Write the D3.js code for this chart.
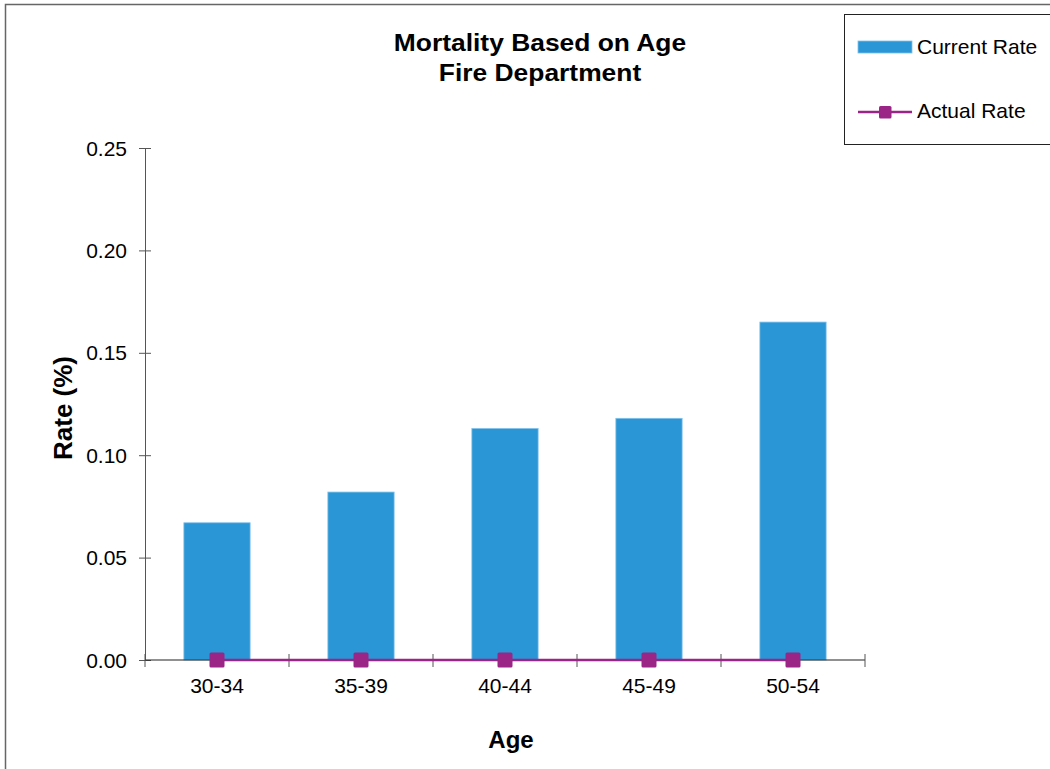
<!DOCTYPE html>
<html>
<head>
<meta charset="utf-8">
<script src="https://cdn.jsdelivr.net/npm/d3@7"></script>
<style>
  html, body { margin: 0; padding: 0; background: #fff; }
  svg { display: block; font-family: "Liberation Sans", Arial, sans-serif; }
</style>
</head>
<body>
<svg id="chart" width="1050" height="769"></svg>
<script>
// Age groups and mortality rates (%)
const categories = ["30-34", "35-39", "40-44", "45-49", "50-54"];
const currentRate = [0.067, 0.082, 0.113, 0.118, 0.165];
const actualRate = [0, 0, 0, 0, 0];
const yTicks = [0, 0.05, 0.10, 0.15, 0.20, 0.25];

const barColor = "#2A96D5";
const lineColor = "#9B2487";
const fontFamily = "Liberation Sans, Arial, sans-serif";

const svg = d3.select("#chart");

// outer frame
svg.append("rect")
  .attr("x", 5.5).attr("y", 4.5)
  .attr("width", 1100).attr("height", 900)
  .attr("fill", "none").attr("stroke", "#666").attr("stroke-width", 1.5);

const plot = { left: 145, right: 865, top: 148, bottom: 660 };

const x = d3.scaleBand()
  .domain(categories)
  .range([plot.left, plot.right])
  .paddingInner(0.54)
  .paddingOuter(0.27);

const xc = d3.scalePoint()
  .domain(categories)
  .range([plot.left, plot.right])
  .padding(0.5);

const y = d3.scaleLinear().domain([0, 0.25]).range([plot.bottom, plot.top]);

// title (wide bold lettering)
const title = svg.append("g")
  .attr("transform", "translate(540,0) scale(1.1,1)")
  .attr("font-weight", "bold").attr("font-size", 24)
  .attr("text-anchor", "middle").attr("fill", "#000");
title.append("text").attr("x", 0).attr("y", 51.5).text("Mortality Based on Age");
title.append("text").attr("x", 0).attr("y", 81).text("Fire Department");

// bars
svg.append("g").selectAll("rect")
  .data(categories)
  .join("rect")
  .attr("x", (d) => x(d))
  .attr("width", x.bandwidth())
  .attr("y", (d, i) => y(currentRate[i]))
  .attr("height", (d, i) => y(0) - y(currentRate[i]))
  .attr("fill", barColor)
  .attr("stroke", "#7fc0ea")
  .attr("stroke-width", 0.8);

// y axis
const yAxis = svg.append("g")
  .attr("transform", `translate(${plot.left},0)`)
  .call(d3.axisLeft(y).tickValues(yTicks).tickFormat(d3.format(".2f")).tickSize(6).tickSizeOuter(0));
yAxis.select(".domain").attr("stroke", "#555");
yAxis.selectAll(".tick line").attr("stroke", "#555").attr("x2", 6).attr("x1", -6);
yAxis.selectAll(".tick text").attr("font-size", 21).attr("fill", "#000")
  .attr("font-family", fontFamily).attr("x", -18).attr("dy", "0.34em");

// x axis
const edges = categories.map((d) => x(d) - (x.step() - x.bandwidth()) / 2).concat([plot.right]);
const xAxis = svg.append("g").attr("transform", `translate(0,${plot.bottom})`);
xAxis.append("line").attr("x1", plot.left).attr("x2", plot.right)
  .attr("stroke", "#222").attr("stroke-width", 1.2);
xAxis.selectAll("line.tick").data(edges).join("line")
  .attr("class", "tick")
  .attr("x1", (d) => d).attr("x2", (d) => d)
  .attr("y1", -6).attr("y2", 7)
  .attr("stroke", "#555");
xAxis.selectAll("text").data(categories).join("text")
  .attr("x", (d) => xc(d))
  .attr("y", 33)
  .attr("text-anchor", "middle")
  .attr("font-size", 21)
  .attr("fill", "#000")
  .text((d) => d);

// actual rate line
const line = d3.line()
  .x((d, i) => xc(categories[i]))
  .y((d) => y(d));
svg.append("path")
  .datum(actualRate)
  .attr("d", line)
  .attr("fill", "none")
  .attr("stroke", lineColor)
  .attr("stroke-width", 2.5);
svg.append("g").selectAll("rect")
  .data(actualRate)
  .join("rect")
  .attr("x", (d, i) => xc(categories[i]) - 7.5)
  .attr("y", (d) => y(d) - 7.5)
  .attr("width", 15).attr("height", 15)
  .attr("rx", 1.5)
  .attr("fill", lineColor);

// axis titles
svg.append("text")
  .attr("transform", `translate(72,408) rotate(-90)`)
  .attr("text-anchor", "middle")
  .attr("font-weight", "bold").attr("font-size", 26)
  .text("Rate (%)");
svg.append("text")
  .attr("x", 511).attr("y", 748)
  .attr("text-anchor", "middle")
  .attr("font-weight", "bold").attr("font-size", 24)
  .text("Age");

// legend
const legend = svg.append("g");
legend.append("rect")
  .attr("x", 844.5).attr("y", 14.5).attr("width", 220).attr("height", 130)
  .attr("fill", "#fff").attr("stroke", "#222").attr("stroke-width", 1);
legend.append("rect")
  .attr("x", 858).attr("y", 41).attr("width", 54).attr("height", 12)
  .attr("fill", barColor).attr("stroke", "#7fc0ea").attr("stroke-width", 0.8);
legend.append("text").attr("x", 917).attr("y", 54)
  .attr("font-size", 21).text("Current Rate");
legend.append("line")
  .attr("x1", 858).attr("x2", 912).attr("y1", 112).attr("y2", 112)
  .attr("stroke", lineColor).attr("stroke-width", 2.5);
legend.append("rect")
  .attr("x", 879).attr("y", 106).attr("width", 12.5).attr("height", 12.5)
  .attr("rx", 1.5).attr("fill", lineColor);
legend.append("text").attr("x", 917).attr("y", 118)
  .attr("font-size", 21).text("Actual Rate");
</script>
</body>
</html>
